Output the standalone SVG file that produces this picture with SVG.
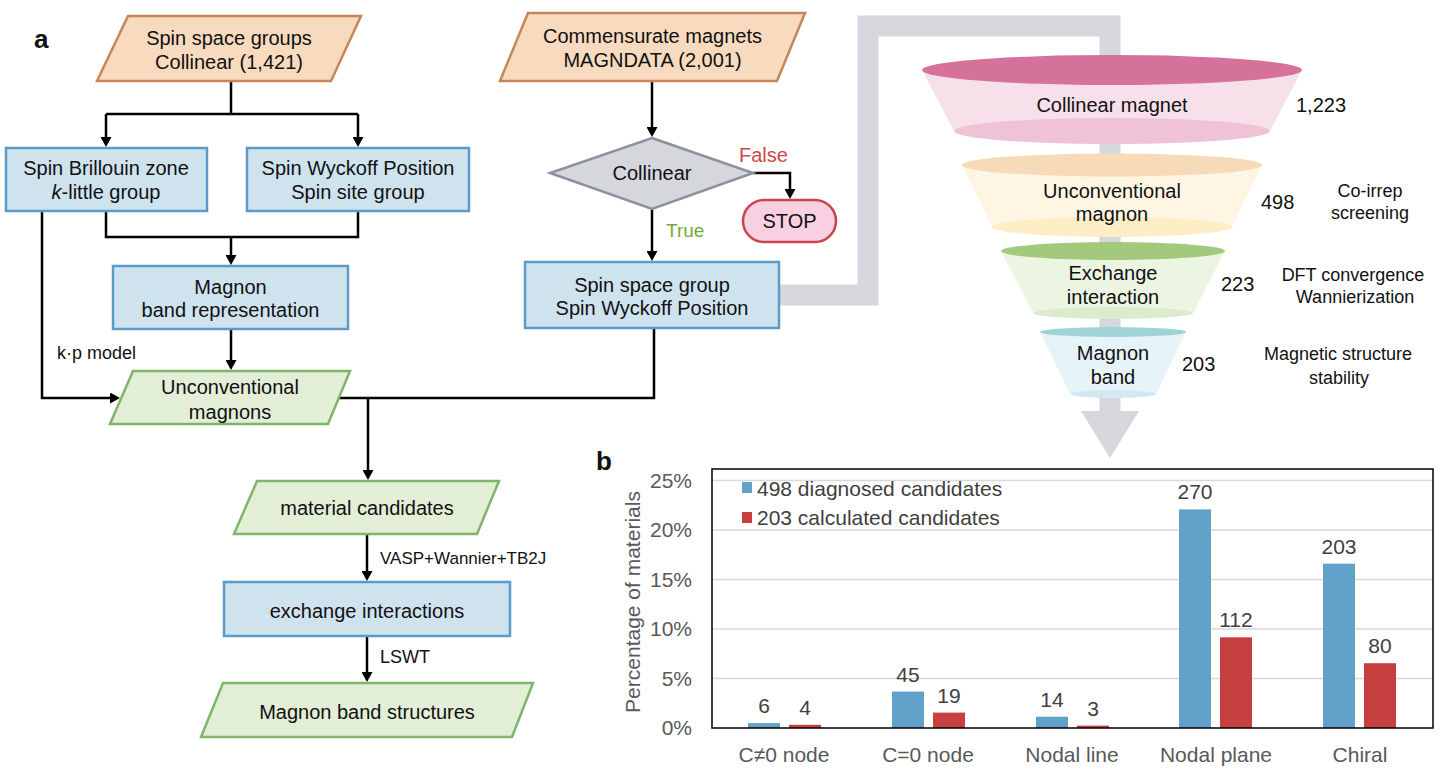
<svg xmlns="http://www.w3.org/2000/svg" width="1441" height="772" viewBox="0 0 1441 772">
<defs>
<style>
text{font-family:"Liberation Sans",Arial,sans-serif;fill:#111}
.t{font-size:20px;text-anchor:middle}
.lbl{font-size:18px}
.peach{fill:#f8dbbf;stroke:#c6865a;stroke-width:2.5}
.blue{fill:#cfe3ef;stroke:#5b9bc8;stroke-width:2.5}
.green{fill:#e2efd6;stroke:#80b46a;stroke-width:2.5}
.ln{fill:none;stroke:#000;stroke-width:2.5}
.ax{font-size:21px;fill:#595959}
.val{font-size:21px;fill:#404040;text-anchor:middle}
.grid{stroke:#d9d9d9;stroke-width:1.5}
.bb{fill:#62a1c9}
.br{fill:#c83f3f}
.ft{font-size:20px;text-anchor:middle}
.side{font-size:18px;text-anchor:middle}
</style>
<marker id="ah" viewBox="0 0 10 11" refX="6" refY="5.5" markerWidth="10" markerHeight="11" markerUnits="userSpaceOnUse" orient="auto">
<path d="M0,0 L10,5.5 L0,11 z" fill="#000"/>
</marker>
</defs>
<rect width="1441" height="772" fill="#fff"/>

<text x="34" y="48" style="font-size:26px;font-weight:bold">a</text>
<text x="596" y="470" style="font-size:26px;font-weight:bold">b</text>

<!-- gray pipeline -->
<g id="pipeline">
<path d="M770,295 H868 V26 H1110 V412" fill="none" stroke="#d6d7dc" stroke-width="21" stroke-linejoin="miter"/>
<polygon points="1081,411 1139,411 1110,458" fill="#d6d7dc"/>
</g>

<!-- connectors -->
<g id="connectors">
<path class="ln" d="M231,81 V114"/>
<path class="ln" d="M106,114 H358"/>
<path class="ln" d="M106,114 V143" marker-end="url(#ah)"/>
<path class="ln" d="M358,114 V143" marker-end="url(#ah)"/>
<path class="ln" d="M106,211 V237 H358 V211"/>
<path class="ln" d="M231,237 V261" marker-end="url(#ah)"/>
<path class="ln" d="M42,211 V398 H116" marker-end="url(#ah)"/>
<path class="ln" d="M231,329 V366" marker-end="url(#ah)"/>
<path class="ln" d="M339,398 H654 V328"/>
<path class="ln" d="M368,398 V476" marker-end="url(#ah)"/>
<path class="ln" d="M367,534 V577" marker-end="url(#ah)"/>
<path class="ln" d="M367,636 V678" marker-end="url(#ah)"/>
<path class="ln" d="M652,81 V133" marker-end="url(#ah)"/>
<path class="ln" d="M753,173 H790 V195" marker-end="url(#ah)"/>
<path class="ln" d="M652,209 V257" marker-end="url(#ah)"/>
<text class="lbl" x="57" y="359">k·p model</text>
<text class="lbl" x="380" y="564" style="font-size:17px">VASP+Wannier+TB2J</text>
<text class="lbl" x="380" y="663">LSWT</text>
<text x="739" y="162" style="font-size:20px;fill:#d0454a">False</text>
<text x="666" y="237" style="font-size:19px;fill:#77a83c">True</text>
</g>

<!-- flow nodes -->
<g id="n-ssg">
<polygon class="peach" points="128,16 361,16 331,81 97,81"/>
<text class="t" x="229" y="45">Spin space groups</text>
<text class="t" x="229" y="69">Collinear (1,421)</text>
</g>
<g id="n-bz">
<rect class="blue" x="6" y="148" width="201" height="63"/>
<text class="t" x="106" y="175">Spin Brillouin zone</text>
<text class="t" x="106" y="199"><tspan font-style="italic">k</tspan>-little group</text>
</g>
<g id="n-wp">
<rect class="blue" x="247" y="148" width="222" height="63"/>
<text class="t" x="358" y="175">Spin Wyckoff Position</text>
<text class="t" x="358" y="199">Spin site group</text>
</g>
<g id="n-mbr">
<rect class="blue" x="113" y="266" width="235" height="63"/>
<text class="t" x="230.5" y="294">Magnon</text>
<text class="t" x="230.5" y="317">band representation</text>
</g>
<g id="n-um">
<polygon class="green" points="133,371 350,371 328,424 110,424"/>
<text class="t" x="230" y="394">Unconventional</text>
<text class="t" x="230" y="419">magnons</text>
</g>
<g id="n-mc">
<polygon class="green" points="257,481 499,481 477,534 234,534"/>
<text class="t" x="367" y="515">material candidates</text>
</g>
<g id="n-ei">
<rect class="blue" x="224" y="582" width="286" height="54"/>
<text class="t" x="367" y="618">exchange interactions</text>
</g>
<g id="n-mbs">
<polygon class="green" points="223,683 533,683 512,737 201,737"/>
<text class="t" x="367" y="719">Magnon band structures</text>
</g>
<g id="n-cm">
<polygon class="peach" points="528,13 805,13 777,81 500,81"/>
<text class="t" x="652.5" y="43">Commensurate magnets</text>
<text class="t" x="652.5" y="67">MAGNDATA (2,001)</text>
</g>
<g id="n-col">
<polygon points="652,138 753,173 652,209 550,173" fill="#d5d7dd" stroke="#8c919b" stroke-width="2.5"/>
<text class="t" x="652" y="180">Collinear</text>
</g>
<g id="n-stop">
<rect x="743" y="200" width="93" height="42" rx="21" fill="#f8d0e2" stroke="#c9444c" stroke-width="2.5"/>
<text class="t" x="789.5" y="228">STOP</text>
</g>
<g id="n-sswp">
<rect class="blue" x="525" y="262" width="254" height="66"/>
<text class="t" x="652" y="292">Spin space group</text>
<text class="t" x="652" y="315">Spin Wyckoff Position</text>
</g>

<!-- funnel -->
<g id="funnel1">
<polygon points="922,70 954,131 1270,131 1302,70" fill="#f7e0ea"/>
<ellipse cx="1112" cy="131" rx="158" ry="13" fill="#efc2d6"/>
<ellipse cx="1112" cy="70" rx="190" ry="15" fill="#d4729a"/>
<text class="ft" x="1112" y="112">Collinear magnet</text>
<text x="1296" y="112" style="font-size:20px">1,223</text>
</g>
<g id="funnel2">
<polygon points="962,165 992,227 1232,227 1262,165" fill="#fef6e3"/>
<ellipse cx="1112" cy="227" rx="120" ry="10" fill="#fdeec6"/>
<ellipse cx="1112" cy="165" rx="150" ry="11.5" fill="#f7dbb9"/>
<text class="ft" x="1112" y="198">Unconventional</text>
<text class="ft" x="1112" y="221">magnon</text>
<text x="1261" y="209" style="font-size:20px">498</text>
<text class="side" x="1370" y="197">Co-irrep</text>
<text class="side" x="1370" y="219">screening</text>
</g>
<g id="funnel3">
<polygon points="1001,251 1033,313 1193,313 1225,251" fill="#ecf5e1"/>
<ellipse cx="1113" cy="313" rx="80" ry="6" fill="#dcebcc"/>
<ellipse cx="1113" cy="251" rx="112" ry="9" fill="#a3c97c"/>
<text class="ft" x="1113" y="280">Exchange</text>
<text class="ft" x="1113" y="304">interaction</text>
<text x="1221" y="291" style="font-size:20px">223</text>
<text class="side" x="1353" y="281">DFT convergence</text>
<text class="side" x="1355" y="303">Wannierization</text>
</g>
<g id="funnel4">
<polygon points="1040,332 1070,394 1156,394 1186,332" fill="#e6f3f8"/>
<ellipse cx="1113" cy="394" rx="43" ry="4" fill="#d3e8f1"/>
<ellipse cx="1113" cy="332" rx="73" ry="5" fill="#9fd3d5"/>
<text class="ft" x="1113" y="360">Magnon</text>
<text class="ft" x="1113" y="384">band</text>
<text x="1182" y="371" style="font-size:20px">203</text>
<text class="side" x="1338" y="360">Magnetic structure</text>
<text class="side" x="1339" y="384">stability</text>
</g>

<!-- chart -->
<g id="chart">
<line class="grid" x1="712" y1="678.5" x2="1433" y2="678.5"/>
<line class="grid" x1="712" y1="629" x2="1433" y2="629"/>
<line class="grid" x1="712" y1="579.5" x2="1433" y2="579.5"/>
<line class="grid" x1="712" y1="530" x2="1433" y2="530"/>
<line class="grid" x1="712" y1="480.5" x2="1433" y2="480.5"/>
<g class="ax" text-anchor="end">
<text x="692" y="735" class="ax">0%</text>
<text x="692" y="686" class="ax">5%</text>
<text x="692" y="636" class="ax">10%</text>
<text x="692" y="587" class="ax">15%</text>
<text x="692" y="537" class="ax">20%</text>
<text x="692" y="488" class="ax">25%</text>
</g>
<text class="ax" transform="translate(640,602) rotate(-90)" text-anchor="middle">Percentage of materials</text>
<rect class="bb" x="748" y="723.1" width="32" height="4.9"/>
<rect class="br" x="789" y="724.8" width="32" height="3.2"/>
<rect class="bb" x="892" y="691.6" width="32" height="36.4"/>
<rect class="br" x="933" y="712.6" width="32" height="15.4"/>
<rect class="bb" x="1036" y="716.7" width="32" height="11.3"/>
<rect class="br" x="1077" y="725.6" width="32" height="2.4"/>
<rect class="bb" x="1179" y="509.4" width="32" height="218.6"/>
<rect class="br" x="1220" y="637.3" width="32" height="90.7"/>
<rect class="bb" x="1323" y="563.7" width="32" height="164.3"/>
<rect class="br" x="1364" y="663.2" width="32" height="64.8"/>
<text class="val" x="764" y="713">6</text>
<text class="val" x="805" y="715">4</text>
<text class="val" x="908" y="682">45</text>
<text class="val" x="949" y="703">19</text>
<text class="val" x="1052" y="707">14</text>
<text class="val" x="1093" y="716">3</text>
<text class="val" x="1195" y="499">270</text>
<text class="val" x="1236" y="627">112</text>
<text class="val" x="1339" y="554">203</text>
<text class="val" x="1380" y="653">80</text>
<rect x="712" y="469" width="721" height="259" fill="none" stroke="#000" stroke-width="1.5"/>
<g text-anchor="middle">
<text class="ax" x="784" y="762">C≠0 node</text>
<text class="ax" x="928" y="762">C=0 node</text>
<text class="ax" x="1072" y="762">Nodal line</text>
<text class="ax" x="1216" y="762">Nodal plane</text>
<text class="ax" x="1360" y="762">Chiral</text>
</g>
<rect class="bb" x="742" y="482" width="10" height="11"/>
<rect class="br" x="742" y="512" width="10" height="11"/>
<text x="757" y="496" style="font-size:21px;fill:#404040">498 diagnosed candidates</text>
<text x="757" y="525" style="font-size:21px;fill:#404040">203 calculated candidates</text>
</g>
</svg>
